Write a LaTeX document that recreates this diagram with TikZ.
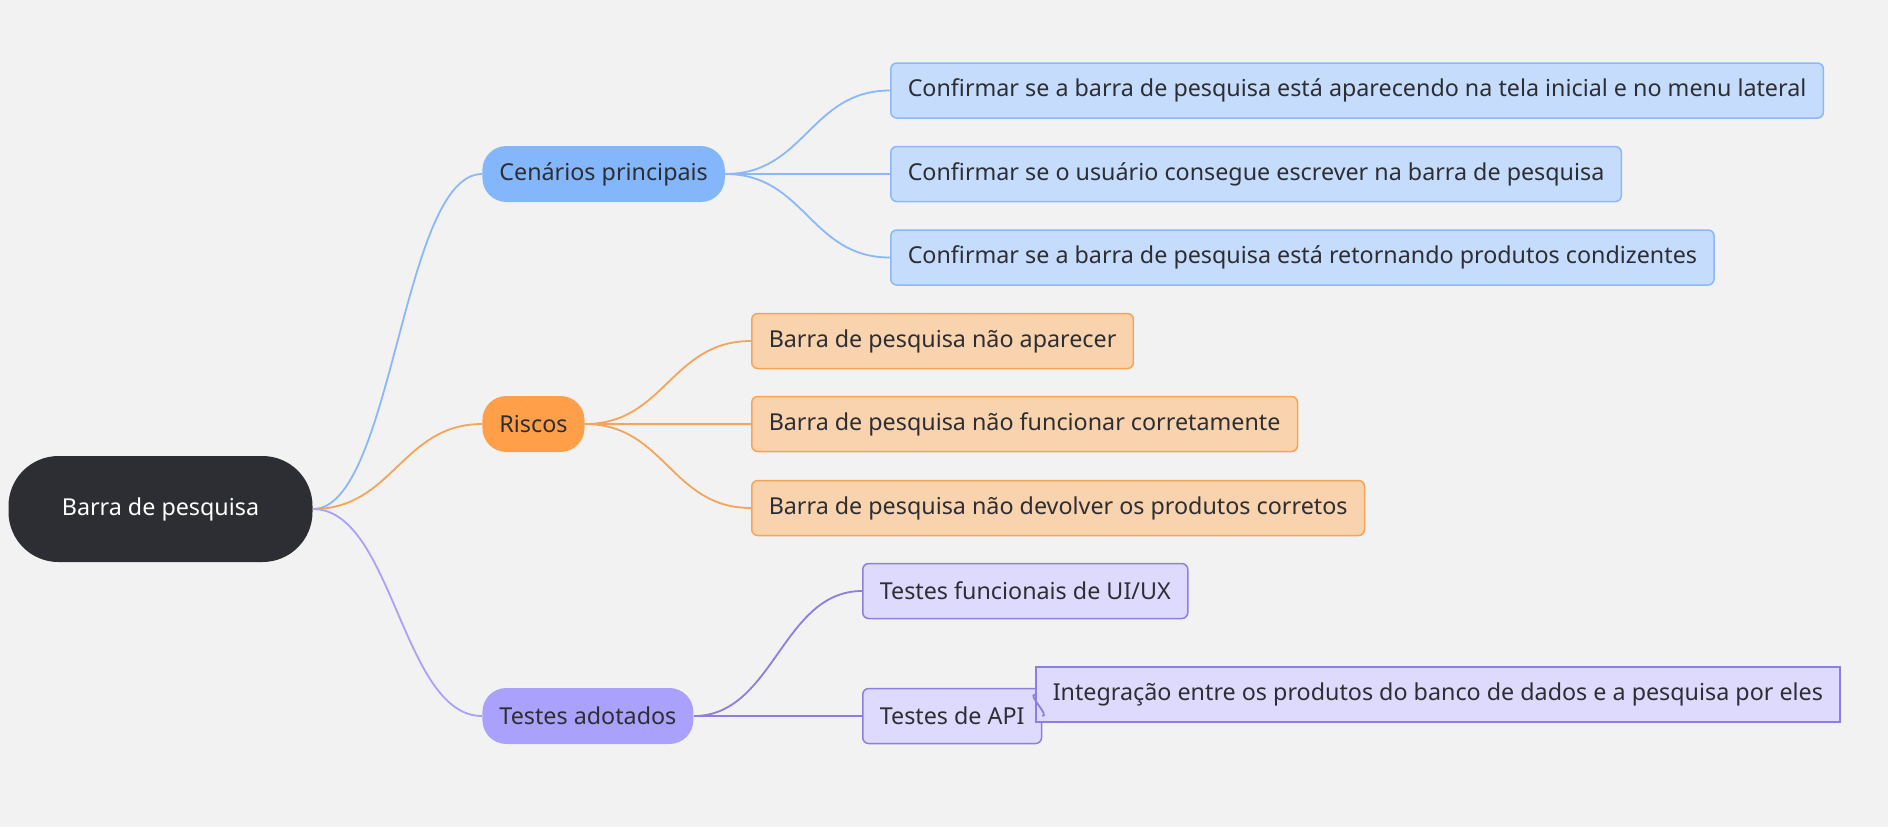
\documentclass[tikz,border=0pt]{standalone}
\usepackage{fontspec}
\setmainfont{Noto Sans}
\definecolor{bgc}{HTML}{F2F2F2}
\definecolor{ink}{HTML}{2C2E33}
\definecolor{rootc}{HTML}{2D2E33}
\definecolor{bluemid}{HTML}{84B6FB}
\definecolor{blueline}{HTML}{8AB8F8}
\definecolor{blueleaf}{HTML}{C6DCFC}
\definecolor{orangemid}{HTML}{FF9F4A}
\definecolor{orangeline}{HTML}{F5A458}
\definecolor{orangeleaf}{HTML}{F8D3AD}
\definecolor{purplemid}{HTML}{A9A1FB}
\definecolor{purpleline}{HTML}{8C7EE2}
\definecolor{purpleleaf}{HTML}{DEDAFD}
\begin{document}
\begin{tikzpicture}[x=0.5pt,y=-0.5pt]
\tikzstyle{every node}+=[inner sep=0pt,text=ink,font=\fontsize{11.65}{13}\selectfont]
\tikzstyle{rootbox}=[fill=rootc,text=white,rounded corners=25pt,minimum width=152pt,minimum height=53pt]
\tikzstyle{topbox}=[anchor=west,rounded corners=12pt,minimum height=28pt,inner xsep=8.5pt]
\tikzstyle{leafbox}=[anchor=west,draw,line width=0.75pt,rounded corners=3pt,minimum height=27.5pt,inner xsep=8.5pt]
\tikzstyle{link}=[line width=0.9pt]
\fill [bgc] (0,0) rectangle (1888,827);
\node [rootbox] (root) at (160.5,509) {Barra de pesquisa};
\node [topbox,fill=bluemid] (cen) at (482,174) {Cenários principais};
\node [topbox,fill=orangemid] (ris) at (482,424) {Riscos};
\node [topbox,fill=purplemid] (tes) at (482,716) {Testes adotados};
\node [leafbox,fill=blueleaf,draw=blueline] (cen1) at (890,90.5) {Confirmar se a barra de pesquisa está aparecendo na tela inicial e no menu lateral};
\node [leafbox,fill=blueleaf,draw=blueline] (cen2) at (890,174) {Confirmar se o usuário consegue escrever na barra de pesquisa};
\node [leafbox,fill=blueleaf,draw=blueline] (cen3) at (890,257.5) {Confirmar se a barra de pesquisa está retornando produtos condizentes};
\node [leafbox,fill=orangeleaf,draw=orangeline] (ris1) at (751,341) {Barra de pesquisa não aparecer};
\node [leafbox,fill=orangeleaf,draw=orangeline] (ris2) at (751,424) {Barra de pesquisa não funcionar corretamente};
\node [leafbox,fill=orangeleaf,draw=orangeline] (ris3) at (751,508) {Barra de pesquisa não devolver os produtos corretos};
\node [leafbox,fill=purpleleaf,draw=purpleline] (tes1) at (862,591) {Testes funcionais de UI/UX};
\node [leafbox,fill=purpleleaf,draw=purpleline] (tes2) at (862,716) {Testes de API};
\node [leafbox,fill=purpleleaf,draw=purpleline,rounded corners=0pt] (api1) at (1035,694.5) {Integração entre os produtos do banco de dados e a pesquisa por eles};
\draw [link,blueline] (root.east) .. controls +(80,0) and +(-80,0) .. (cen.west);
\draw [link,orangeline] (root.east) .. controls +(80,0) and +(-80,0) .. (ris.west);
\draw [link,purplemid] (root.east) .. controls +(80,0) and +(-80,0) .. (tes.west);
\draw [link,blueline] (cen.east) .. controls +(80,0) and +(-80,0) .. (cen1.west);
\draw [link,blueline] (cen.east) -- (cen2.west);
\draw [link,blueline] (cen.east) .. controls +(80,0) and +(-80,0) .. (cen3.west);
\draw [link,orangeline] (ris.east) .. controls +(80,0) and +(-80,0) .. (ris1.west);
\draw [link,orangeline] (ris.east) -- (ris2.west);
\draw [link,orangeline] (ris.east) .. controls +(80,0) and +(-80,0) .. (ris3.west);
\draw [link,purpleline] (tes.east) .. controls +(80,0) and +(-80,0) .. (tes1.west);
\draw [link,purpleline] (tes.east) -- (tes2.west);
\draw [link,purpleline] (tes2.east) .. controls +(8,0) and +(-8,0) .. (api1.west);
\end{tikzpicture}
\end{document}
